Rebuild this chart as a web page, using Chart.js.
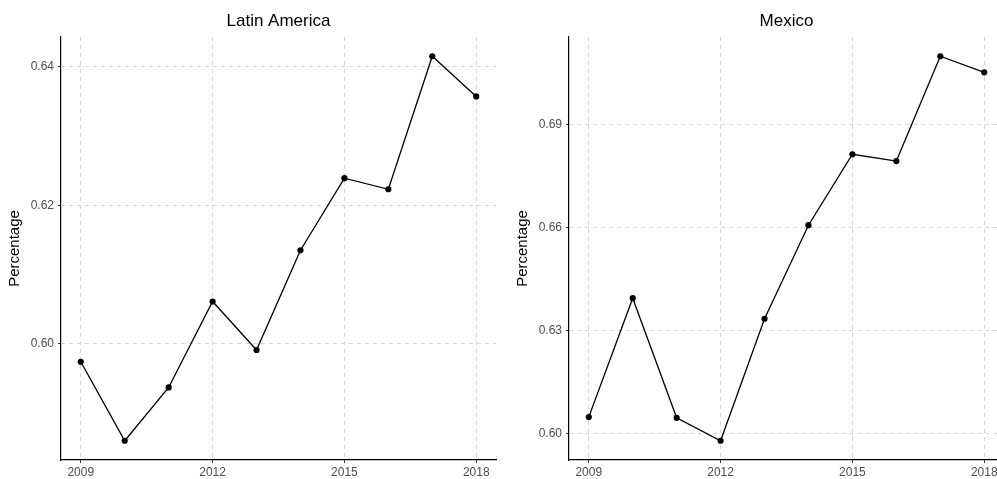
<!DOCTYPE html>
<html>
<head>
<meta charset="utf-8">
<script src="https://cdn.jsdelivr.net/npm/chart.js@4/dist/chart.umd.min.js"></script>
<style>
  html, body { margin:0; padding:0; background:#fff; overflow:hidden; width:997px; height:479px; }
  canvas { position:absolute; top:0; }
  #chart-latam  { left:0; }
  #chart-mexico { left:508px; }
</style>
</head>
<body>
<canvas id="chart-latam" width="500" height="479"></canvas>
<canvas id="chart-mexico" width="500" height="479"></canvas>
<script>
// ── Data ─────────────────────────────────────────────────────────────────────
const years       = [2009, 2010, 2011, 2012, 2013, 2014, 2015, 2016, 2017, 2018];
const latamValues = [0.5974, 0.5860, 0.5937, 0.6061, 0.5991, 0.6135, 0.6239, 0.6223, 0.6415, 0.6357];
const mexicoValues= [0.6047, 0.6394, 0.6045, 0.5978, 0.6334, 0.6607, 0.6814, 0.6794, 0.7100, 0.7053];
const xTicks      = [2009, 2012, 2015, 2018];
const latamTicks  = [0.60, 0.62, 0.64];
const mexicoTicks = [0.60, 0.63, 0.66, 0.69];

const FONT = "'Liberation Sans', Arial, Helvetica, sans-serif";

// ggplot-like default expansion of 5%
function expand(vals, mult) {
  const lo = Math.min(...vals), hi = Math.max(...vals), pad = (hi - lo) * mult;
  return { min: lo - pad, max: hi + pad };
}

function makePanel(canvasId, title, values, yTicks) {
  const yr = expand(values, 0.05);
  const xr = expand(years, 0.05);
  return new Chart(document.getElementById(canvasId), {
    type: 'line',
    data: {
      datasets: [{
        data: years.map((x, i) => ({ x, y: values[i] })),
        borderColor: '#000', borderWidth: 1.3,
        pointRadius: 3.1, pointBorderWidth: 0, pointBackgroundColor: '#000',
        tension: 0, fill: false,
      }],
    },
    options: {
      responsive: false, animation: false, devicePixelRatio: 1,
      layout: { padding: { left: 0, right: 4, top: 0, bottom: 0 } },
      plugins: {
        legend: { display: false }, tooltip: { enabled: false },
        title: {
          display: true, text: title, color: '#000', fullSize: false,
          font: { family: FONT, size: 17, weight: 'normal', lineHeight: 1.2 },
          padding: { top: 11, bottom: 5.6 },
        },
      },
      scales: {
        x: {
          type: 'linear', min: xr.min, max: xr.max,
          afterBuildTicks: s => { s.ticks = xTicks.map(v => ({ value: v })); },
          afterFit: s => { s.height = 19; },
          ticks: { color: '#4d4d4d', font: { family: FONT, size: 12 }, padding: 2, maxRotation: 0, callback: v => String(v) },
          grid: { color: '#d4d4d4', lineWidth: 1, tickLength: 3, tickColor: '#333', tickWidth: 1 },
          border: { display: true, color: '#000', width: 1.2, dash: [4, 4] },
        },
        y: {
          type: 'linear', min: yr.min, max: yr.max,
          afterBuildTicks: s => { s.ticks = yTicks.map(v => ({ value: v })); },
          afterFit: s => { s.width = 61; },
          ticks: { color: '#4d4d4d', font: { family: FONT, size: 12 }, padding: 4, callback: v => v.toFixed(2) },
          grid: { color: '#d4d4d4', lineWidth: 1, tickLength: 3, tickColor: '#333', tickWidth: 1 },
          border: { display: true, color: '#000', width: 1.2, dash: [4, 4] },
          title: {
            display: true, text: 'Percentage', color: '#000',
            font: { family: FONT, size: 15, lineHeight: 1.2 },
            padding: { top: 6, bottom: 0 },
          },
        },
      },
    },
  });
}

makePanel('chart-latam',  'Latin America', latamValues,  latamTicks);
makePanel('chart-mexico', 'Mexico',        mexicoValues, mexicoTicks);
</script>
</body>
</html>
